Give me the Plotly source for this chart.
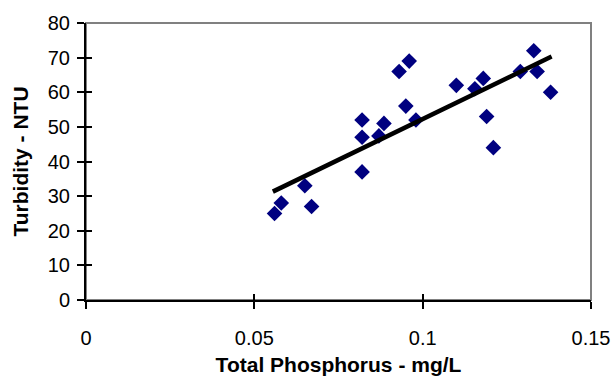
import plotly.graph_objects as go

# Data
phosphorus = [0.056, 0.058, 0.065, 0.067, 0.082, 0.082, 0.082, 0.087, 0.0885,
              0.093, 0.096, 0.095, 0.098, 0.110, 0.1155, 0.118, 0.119, 0.121,
              0.129, 0.133, 0.134, 0.138]
turbidity = [25, 28, 33, 27, 37, 47, 52, 47.4, 51, 66, 69, 56, 52, 62, 61, 64,
             53, 44, 66, 72, 66, 60]
trend_x = [0.0555, 0.1383]
trend_y = [31.3, 70.3]

x_ticks = [0, 0.05, 0.1, 0.15]
x_tick_labels = ["0", "0.05", "0.1", "0.15"]
y_ticks = [0, 10, 20, 30, 40, 50, 60, 70, 80]

FONT = "Arial, Liberation Sans, sans-serif"

fig = go.Figure()
fig.add_trace(go.Scatter(
    x=phosphorus, y=turbidity, mode="markers",
    marker=dict(symbol="diamond", size=12, color="#000080", line=dict(width=0)),
    showlegend=False, hoverinfo="x+y"))
fig.add_trace(go.Scatter(
    x=trend_x, y=trend_y, mode="lines",
    line=dict(color="black", width=4.5), showlegend=False))

fig.update_layout(
    width=612, height=376,
    margin=dict(l=86, r=21, t=23, b=76),
    paper_bgcolor="white", plot_bgcolor="white",
    font=dict(family=FONT, size=20, color="black"),
    xaxis=dict(
        range=[0, 0.15], tickvals=x_ticks, ticktext=x_tick_labels,
        showgrid=False, zeroline=False, showline=True, linecolor="black", linewidth=2,
        ticks="outside", ticklen=7, tickwidth=1.5, tickcolor="black",
        ticklabelstandoff=12, automargin=False,
        title=dict(text="<b>Total Phosphorus - mg/L</b>", font=dict(size=21), standoff=14),
        fixedrange=True),
    yaxis=dict(
        range=[0, 80], tickvals=y_ticks, automargin=False,
        showgrid=False, zeroline=False, showline=True, linecolor="black", linewidth=2,
        ticks="outside", ticklen=7, tickwidth=1.5, tickcolor="black",
        ticklabelstandoff=3,
        title=dict(text="<b>Turbidity - NTU</b>", font=dict(size=21), standoff=13),
        fixedrange=True),
    xaxis2=dict(range=[0, 0.15], tickvals=x_ticks, overlaying="x", side="bottom",
                showticklabels=False, ticks="inside", ticklen=6, tickwidth=1.5,
                tickcolor="black", showgrid=False, zeroline=False, showline=False,
                automargin=False, fixedrange=True),
    yaxis2=dict(range=[0, 80], tickvals=y_ticks, overlaying="y", side="left",
                showticklabels=False, ticks="inside", ticklen=6, tickwidth=1.5,
                tickcolor="black", showgrid=False, zeroline=False, showline=False,
                automargin=False, fixedrange=True),
    shapes=[dict(type="rect", xref="paper", yref="paper", x0=0, y0=0, x1=1, y1=1,
                 line=dict(color="#808080", width=2), layer="below")],
)
# invisible trace to activate the secondary axes (inside tick marks)
fig.add_trace(go.Scatter(x=[None], y=[None], xaxis="x2", yaxis="y2",
                         showlegend=False, hoverinfo="skip"))

fig.write_html("out.html", config={"displayModeBar": False},
               post_script="document.body.style.margin='0';document.body.style.overflow='hidden';")
